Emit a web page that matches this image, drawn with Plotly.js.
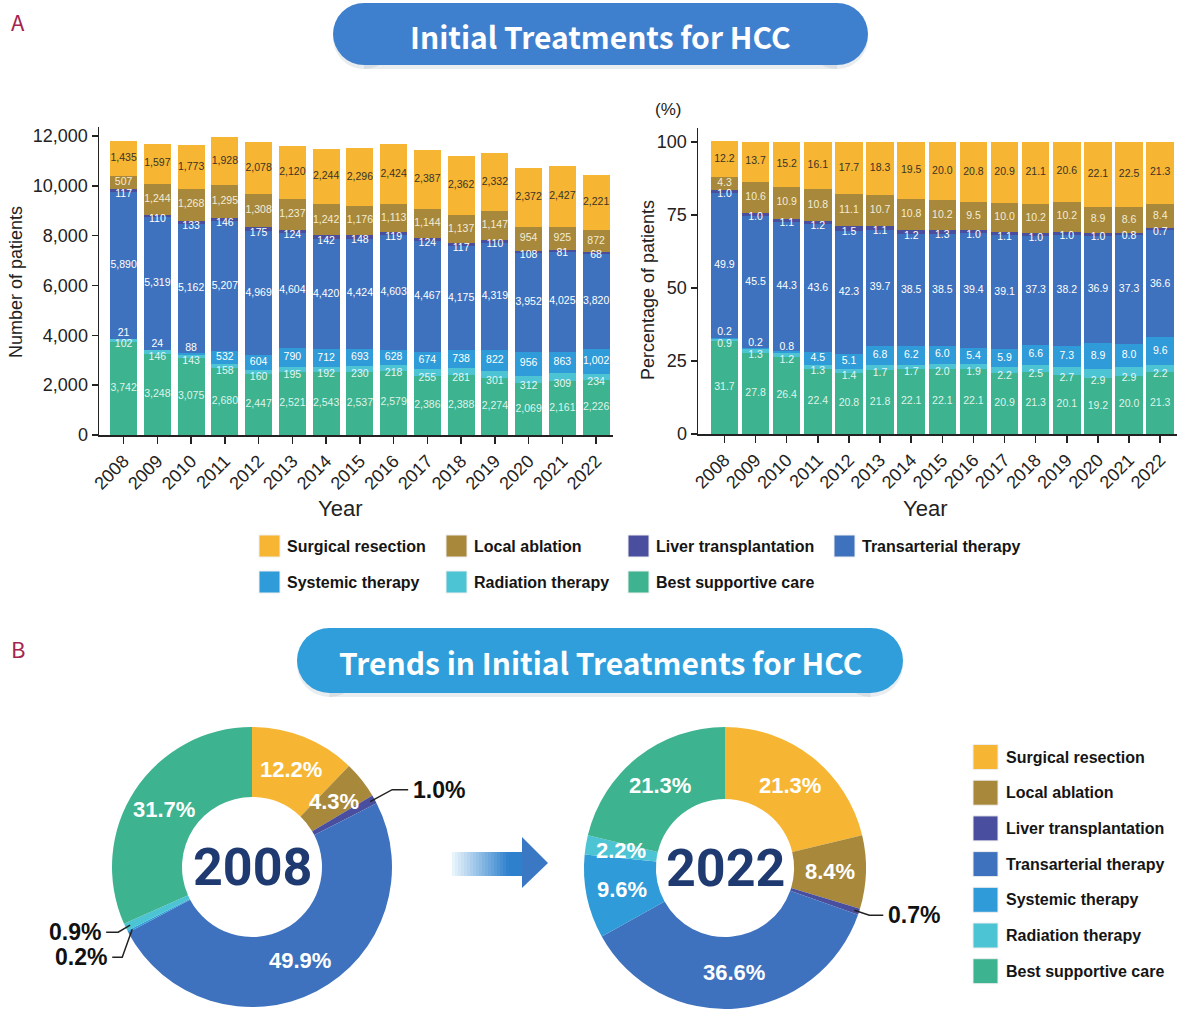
<!DOCTYPE html>
<html><head><meta charset="utf-8">
<script src="https://cdn.plot.ly/plotly-3.0.1.min.js"></script>
<style>html,body{margin:0;padding:0;background:#fff}#chart{width:1182px;height:1013px}</style>
</head><body><div id="chart"></div>
<script>
// ---------------- DATA ----------------
const years = ['2008','2009','2010','2011','2012','2013','2014','2015','2016','2017','2018','2019','2020','2021','2022'];
const seriesNames = ['Surgical resection','Local ablation','Liver transplantation','Transarterial therapy','Systemic therapy','Radiation therapy','Best supportive care'];

// Number of patients
const surgicalN   = [1435,1597,1773,1928,2078,2120,2244,2296,2424,2387,2362,2332,2372,2427,2221];
const ablationN   = [507,1244,1268,1295,1308,1237,1242,1176,1113,1144,1137,1147,954,925,872];
const transplantN = [117,110,133,146,175,124,142,148,119,124,117,110,108,81,68];
const tacN        = [5890,5319,5162,5207,4969,4604,4420,4424,4603,4467,4175,4319,3952,4025,3820];
const systemicN   = [21,24,88,532,604,790,712,693,628,674,738,822,956,863,1002];
const radiationN  = [102,146,143,158,160,195,192,230,218,255,281,301,312,309,234];
const supportiveN = [3742,3248,3075,2680,2447,2521,2543,2537,2579,2386,2388,2274,2069,2161,2226];

// Percentage of patients
const surgicalPct   = [12.2,13.7,15.2,16.1,17.7,18.3,19.5,20.0,20.8,20.9,21.1,20.6,22.1,22.5,21.3];
const ablationPct   = [4.3,10.6,10.9,10.8,11.1,10.7,10.8,10.2,9.5,10.0,10.2,10.2,8.9,8.6,8.4];
const transplantPct = [1.0,1.0,1.1,1.2,1.5,1.1,1.2,1.3,1.0,1.1,1.0,1.0,1.0,0.8,0.7];
const tacPct        = [49.9,45.5,44.3,43.6,42.3,39.7,38.5,38.5,39.4,39.1,37.3,38.2,36.9,37.3,36.6];
const systemicPct   = [0.2,0.2,0.8,4.5,5.1,6.8,6.2,6.0,5.4,5.9,6.6,7.3,8.9,8.0,9.6];
const radiationPct  = [0.9,1.3,1.2,1.3,1.4,1.7,1.7,2.0,1.9,2.2,2.5,2.7,2.9,2.9,2.2];
const supportivePct = [31.7,27.8,26.4,22.4,20.8,21.8,22.1,22.1,22.1,20.9,21.3,20.1,19.2,20.0,21.3];

const donutYears = ['2008','2022'];

// ---------------- STYLE ----------------
const colors = ['#F6B633','#A8883A','#4A4E9E','#3E72BE','#2F9BD8','#4CC4D3','#3DB38F'];
const labelColors = ['#3a3326','#f3ecd6','#ffffff','#ffffff','#ffffff','#e4f6f6','#dff3ea'];

const W = 1182, H = 1013;
const fx = p => p / W;
const fy = p => 1 - p / H;

const countTop = [surgicalN, ablationN, transplantN, tacN, systemicN, radiationN, supportiveN];
const pctTop   = [surgicalPct, ablationPct, transplantPct, tacPct, systemicPct, radiationPct, supportivePct];

// chart geometry (pixels)
const L = {x0:99, x1:613, y0:435, y1:127, ymax:12360, xr:[-0.73,14.5], bw:0.8};
const R = {x0:698, x1:1177, y0:434, y1:128, ymax:104.8, xr:[-0.85,14.54], bw:0.885};

const traces = [];
function addStack(data, xa, ya, geo, fmt) {
  const ppu = (geo.y0 - geo.y1) / geo.ymax;
  const n = years.length;
  const base = new Array(n).fill(0);
  for (let k = data.length - 1; k >= 0; k--) {
    const vals = data[k];
    traces.push({type:'bar', x:years, y:vals, xaxis:xa, yaxis:ya, width:geo.bw,
      marker:{color:colors[k], line:{width:0}}, name:seriesNames[k], showlegend:false, hoverinfo:'skip'});
    const ly = vals.map((v,i) => {
      const b = base[i];
      if (k === 2) return b - 2/ppu;                          // liver transplantation
      if (k === 4) return Math.max(b + v/2, b + 6/ppu);       // systemic
      if (k === 5) return b - 3/ppu;                          // radiation
      return b + v/2;
    });
    traces.push({type:'scatter', mode:'text', x:years, y:ly, xaxis:xa, yaxis:ya,
      text: vals.map(fmt), textposition:'middle center',
      textfont:{family:'Arial', size:10.5, color:labelColors[k]},
      showlegend:false, hoverinfo:'skip', cliponaxis:false});
    vals.forEach((v,i) => base[i] += v);
  }
}
addStack(countTop, 'x', 'y', L, v => v.toLocaleString('en-US'));
addStack(pctTop, 'x2', 'y2', R, v => v.toFixed(1));

const annotations = [];
const shapes = [];
function ann(x, y, text, font, extra) {
  annotations.push(Object.assign({xref:'paper', yref:'paper', x:fx(x), y:fy(y), text:text, showarrow:false,
    xanchor:'center', yanchor:'middle', font:font}, extra || {}));
}

// donuts
const pies = [{cx:252, cy:867, r:140, hole:0.5, idx:0}, {cx:725, cy:868, r:141, hole:0.49, idx:years.length-1}];
const leaders = {
  '0-2': {dx1:22, dy1:-12, dx2:38, side:'left'},
  '0-5': {dx1:-12, dy1:7, dx2:-24, side:'right'},
  '0-4': {dx1:-10, dy1:28, dx2:-20, side:'right'},
  '1-2': {dx1:15, dy1:5, dx2:29, side:'left'}
};
pies.forEach((p, pi) => {
  const vals = pctTop.map(s => s[p.idx]);
  const tot = vals.reduce((a,b)=>a+b,0);
  traces.push({type:'pie', values:vals, labels:seriesNames, sort:false, direction:'clockwise', rotation:0,
    hole:p.hole, marker:{colors:colors, line:{width:0}}, textinfo:'none',
    domain:{x:[fx(p.cx-p.r), fx(p.cx+p.r)], y:[fy(p.cy+p.r), fy(p.cy-p.r)]},
    showlegend:false, hoverinfo:'skip'});
  ann(p.cx, p.cy, donutYears[pi], {family:'Roboto', size:52, color:'#1E3A70', weight:'bold'});
  const rm = p.r * (1 + p.hole) / 2;
  let cum = 0;
  vals.forEach((v,k) => {
    const mid = (cum + v/2) / tot * 2 * Math.PI;
    cum += v;
    const key = pi + '-' + k;
    if (v >= 2) {
      ann(p.cx + rm*Math.sin(mid), p.cy - rm*Math.cos(mid), v.toFixed(1)+'%',
        {family:'Arial', size:22, color:'#ffffff', weight:'bold'});
    } else if (leaders[key]) {
      const lr = leaders[key];
      const px = p.cx + (p.r - 5) * Math.sin(mid);
      const py = p.cy - (p.r - 5) * Math.cos(mid);
      const ex = px + lr.dx1, ey = py + lr.dy1, ex2 = px + lr.dx2;
      shapes.push({type:'path', xref:'paper', yref:'paper',
        path:`M ${fx(px)} ${fy(py)} L ${fx(ex)} ${fy(ey)} L ${fx(ex2)} ${fy(ey)}`,
        line:{color:'#222', width:1.5}});
      ann(ex2 + (lr.side==='left'?3:-3), ey, v.toFixed(1)+'%',
        {family:'Arial', size:23, color:'#111', weight:'bold'}, {xanchor:lr.side});
    }
  });
});

// pills (titles)
function pill(x0, x1, y0, y1, color) {
  const r = (y1 - y0) / 2;
  const sh = [];
  const sc = 'rgba(120,140,160,0.16)';
  sh.push({type:'rect', xref:'paper', yref:'paper', x0:fx(x0+r), x1:fx(x1-r), y0:fy(y1+4), y1:fy(y0+4), fillcolor:sc, line:{width:0}, layer:'below'});
  sh.push({type:'circle', xref:'paper', yref:'paper', x0:fx(x0), x1:fx(x0+2*r), y0:fy(y1+4), y1:fy(y0+4), fillcolor:sc, line:{width:0}, layer:'below'});
  sh.push({type:'circle', xref:'paper', yref:'paper', x0:fx(x1-2*r), x1:fx(x1), y0:fy(y1+4), y1:fy(y0+4), fillcolor:sc, line:{width:0}, layer:'below'});
  sh.push({type:'rect', xref:'paper', yref:'paper', x0:fx(x0+r), x1:fx(x1-r), y0:fy(y1), y1:fy(y0), fillcolor:color, line:{width:0}});
  sh.push({type:'circle', xref:'paper', yref:'paper', x0:fx(x0), x1:fx(x0+2*r), y0:fy(y1), y1:fy(y0), fillcolor:color, line:{width:0}});
  sh.push({type:'circle', xref:'paper', yref:'paper', x0:fx(x1-2*r), x1:fx(x1), y0:fy(y1), y1:fy(y0), fillcolor:color, line:{width:0}});
  return sh;
}
shapes.push(...pill(333, 868, 3, 65, '#3F80CE'));
shapes.push(...pill(297, 903, 628, 693, '#2F9EDA'));
ann(600, 36, 'Initial Treatments for HCC', {family:'Noto Sans CJK KR', size:30, color:'#ffffff', weight:'bold'});
ann(600, 662, 'Trends in Initial Treatments for HCC', {family:'Noto Sans CJK KR', size:30, color:'#ffffff', weight:'bold'});

// panel letters
ann(9, 21, 'A', {family:'Noto Sans CJK KR', size:22, color:'#A5234F'}, {xanchor:'left'});
ann(9, 648, 'B', {family:'Noto Sans CJK KR', size:22, color:'#A5234F'}, {xanchor:'left'});

// axis titles
const tf = {family:'Arial', size:18, color:'#222'};
ann(16, 282, 'Number of patients', tf, {textangle:-90});
ann(648, 290, 'Percentage of patients', tf, {textangle:-90});
ann(668, 110, '(%)', {family:'Arial', size:17, color:'#222'});
ann(340, 508, 'Year', {family:'Arial', size:22, color:'#222'});
ann(925, 508, 'Year', {family:'Arial', size:22, color:'#222'});

// legend A
const legA = [[259,546],[446,546],[628,546],[834,546],[259,582],[446,582],[628,582]];
const lf = {family:'Arial', size:16, color:'#151515', weight:'bold'};
legA.forEach((p,k) => {
  shapes.push({type:'rect', xref:'paper', yref:'paper', x0:fx(p[0]), x1:fx(p[0]+21), y0:fy(p[1]+11), y1:fy(p[1]-11), fillcolor:colors[k], line:{color:'#eeeeee', width:1}});
  ann(p[0]+26, p[1], seriesNames[k], lf, {xanchor:'left'});
});
// legend B
seriesNames.forEach((nm,k) => {
  const cy = 757 + k*35.7;
  shapes.push({type:'rect', xref:'paper', yref:'paper', x0:fx(973), x1:fx(998), y0:fy(cy+12.5), y1:fy(cy-12.5), fillcolor:colors[k], line:{color:'#eeeeee', width:1}});
  ann(1004, cy, nm, lf, {xanchor:'left'});
});

// gradient arrow between donuts
const nStrip = 24, sx0 = 452, sx1 = 524;
for (let s = 0; s < nStrip; s++) {
  const t = s / (nStrip - 1);
  const c0 = [232,244,251], c1 = [46,128,205];
  const tt = Math.min(1, t*1.25);
  const c = c0.map((a,i) => Math.round(a + (c1[i]-a)*tt));
  shapes.push({type:'rect', xref:'paper', yref:'paper', x0:fx(sx0 + (sx1-sx0)*s/nStrip), x1:fx(sx0 + (sx1-sx0)*(s+1)/nStrip + 0.5),
    y0:fy(876), y1:fy(852), fillcolor:`rgb(${c[0]},${c[1]},${c[2]})`, line:{width:0}});
}
shapes.push({type:'path', xref:'paper', yref:'paper',
  path:`M ${fx(522)} ${fy(837)} L ${fx(548)} ${fy(863)} L ${fx(522)} ${fy(888)} Z`, fillcolor:'#3A78C4', line:{width:0}});

const axisCommon = {showline:true, linecolor:'#222', linewidth:1.5, ticks:'outside', tickcolor:'#222', tickwidth:1.5,
  showgrid:false, zeroline:false, tickfont:{family:'Arial', size:18, color:'#222'}, fixedrange:true};

const layout = {
  width:W, height:H, margin:{l:0,r:0,t:0,b:0}, paper_bgcolor:'#fff', plot_bgcolor:'#fff',
  barmode:'stack', showlegend:false,
  xaxis: Object.assign({}, axisCommon, {domain:[fx(L.x0), fx(L.x1)], range:L.xr, type:'category', anchor:'y', ticklen:7, tickangle:-45}),
  yaxis: Object.assign({}, axisCommon, {domain:[fy(L.y0), fy(L.y1)], range:[0,L.ymax], anchor:'x', ticklen:6, tickvals:[0,2000,4000,6000,8000,10000,12000], tickformat:',d'}),
  xaxis2: Object.assign({}, axisCommon, {domain:[fx(R.x0), fx(R.x1)], range:R.xr, type:'category', anchor:'y2', ticklen:7, tickangle:-45}),
  yaxis2: Object.assign({}, axisCommon, {domain:[fy(R.y0), fy(R.y1)], range:[0,R.ymax], anchor:'x2', ticklen:6, tickvals:[0,25,50,75,100]}),
  shapes:shapes, annotations:annotations
};
Plotly.newPlot('chart', traces, layout, {displayModeBar:false, staticPlot:true});
</script></body></html>
